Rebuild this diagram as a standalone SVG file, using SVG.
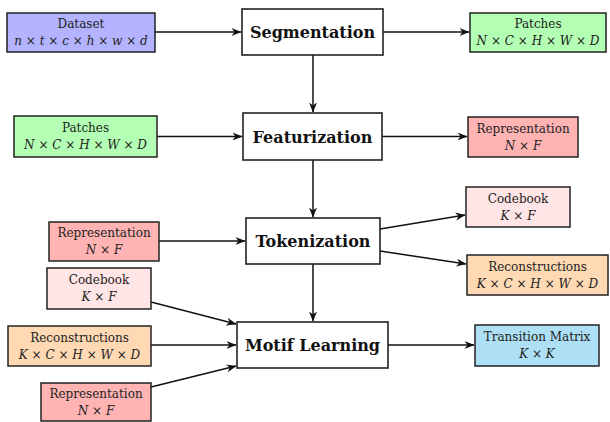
<svg xmlns="http://www.w3.org/2000/svg" width="610" height="422" viewBox="0 0 610 422">
<style>
.box{stroke:#222;stroke-width:1.5}
.main{fill:#fff;stroke:#222;stroke-width:1.6}
.t{font-family:"DejaVu Serif","Liberation Serif",serif;font-size:12px;fill:#222;text-anchor:middle}
.m{font-style:italic}
.x{font-style:normal}
.h{font-family:"DejaVu Serif","Liberation Serif",serif;font-size:16px;font-weight:bold;fill:#111;text-anchor:middle}
.c{stroke:#111;stroke-width:1.5;fill:none;marker-end:url(#ah)}
.blue{fill:#b3b3ff}.green{fill:#b3ffb3}.red{fill:#ffb3b3}.pink{fill:#ffe5e5}.orange{fill:#ffd9b3}.cyan{fill:#ade0f5}
</style>
<defs>
<marker id="ah" markerWidth="10" markerHeight="10" viewBox="0 0 10 10" refX="9.5" refY="5" orient="auto" markerUnits="userSpaceOnUse">
<path d="M0,1 L10,5 L0,9 L3,5 z" fill="#111"/>
</marker>
</defs>
<rect width="610" height="422" fill="#fff"/>
<g id="connectors">
<line class="c" x1="155" y1="32" x2="241" y2="32"/>
<line class="c" x1="383" y1="32" x2="469" y2="32"/>
<line class="c" x1="313" y1="55" x2="313" y2="112"/>
<line class="c" x1="157" y1="136.5" x2="242" y2="136.5"/>
<line class="c" x1="382" y1="136.5" x2="467" y2="136.5"/>
<line class="c" x1="313" y1="160" x2="313" y2="217"/>
<line class="c" x1="159" y1="241" x2="245" y2="241"/>
<line class="c" x1="380" y1="229" x2="465" y2="215"/>
<line class="c" x1="380" y1="251" x2="466" y2="264"/>
<line class="c" x1="313" y1="264" x2="313" y2="321"/>
<line class="c" x1="151" y1="302" x2="236" y2="324"/>
<line class="c" x1="151" y1="345" x2="236" y2="345"/>
<line class="c" x1="151" y1="387" x2="236" y2="366"/>
<line class="c" x1="388" y1="345" x2="474" y2="345"/>
</g>
<g id="dataset">
<rect class="box blue" x="7" y="13" width="148" height="39"/>
<text class="t" x="81" y="28">Dataset</text>
<text class="t m" x="81" y="45">n<tspan class="x"> × </tspan>t<tspan class="x"> × </tspan>c<tspan class="x"> × </tspan>h<tspan class="x"> × </tspan>w<tspan class="x"> × </tspan>d</text>
</g>
<g id="segmentation">
<rect class="main" x="242" y="9" width="141" height="46"/>
<text class="h" x="312.5" y="38">Segmentation</text>
</g>
<g id="patches-out">
<rect class="box green" x="470" y="13" width="136" height="39"/>
<text class="t" x="538" y="28">Patches</text>
<text class="t m" x="538" y="45">N<tspan class="x"> × </tspan>C<tspan class="x"> × </tspan>H<tspan class="x"> × </tspan>W<tspan class="x"> × </tspan>D</text>
</g>
<g id="patches-in">
<rect class="box green" x="14" y="116" width="143" height="41"/>
<text class="t" x="85.5" y="132">Patches</text>
<text class="t m" x="85.5" y="149">N<tspan class="x"> × </tspan>C<tspan class="x"> × </tspan>H<tspan class="x"> × </tspan>W<tspan class="x"> × </tspan>D</text>
</g>
<g id="featurization">
<rect class="main" x="243" y="113" width="139" height="47"/>
<text class="h" x="312.5" y="142.5">Featurization</text>
</g>
<g id="representation-out">
<rect class="box red" x="468" y="117" width="110" height="40"/>
<text class="t" x="523" y="133">Representation</text>
<text class="t m" x="523" y="150">N<tspan class="x"> × </tspan>F</text>
</g>
<g id="representation-in">
<rect class="box red" x="49" y="222" width="110" height="39"/>
<text class="t" x="104" y="237">Representation</text>
<text class="t m" x="104" y="254">N<tspan class="x"> × </tspan>F</text>
</g>
<g id="tokenization">
<rect class="main" x="246" y="218" width="134" height="46"/>
<text class="h" x="313" y="247">Tokenization</text>
</g>
<g id="codebook-out">
<rect class="box pink" x="466" y="187" width="104" height="40"/>
<text class="t" x="518" y="203">Codebook</text>
<text class="t m" x="518" y="220">K<tspan class="x"> × </tspan>F</text>
</g>
<g id="reconstructions-out">
<rect class="box orange" x="467" y="255" width="141" height="40"/>
<text class="t" x="537.5" y="271">Reconstructions</text>
<text class="t m" x="537.5" y="288">K<tspan class="x"> × </tspan>C<tspan class="x"> × </tspan>H<tspan class="x"> × </tspan>W<tspan class="x"> × </tspan>D</text>
</g>
<g id="codebook-in">
<rect class="box pink" x="47" y="268" width="104" height="41"/>
<text class="t" x="99" y="284">Codebook</text>
<text class="t m" x="99" y="301">K<tspan class="x"> × </tspan>F</text>
</g>
<g id="reconstructions-in">
<rect class="box orange" x="8" y="326" width="143" height="40"/>
<text class="t" x="79.5" y="342">Reconstructions</text>
<text class="t m" x="79.5" y="359">K<tspan class="x"> × </tspan>C<tspan class="x"> × </tspan>H<tspan class="x"> × </tspan>W<tspan class="x"> × </tspan>D</text>
</g>
<g id="representation-motif">
<rect class="box red" x="41" y="383" width="110" height="38"/>
<text class="t" x="96" y="398">Representation</text>
<text class="t m" x="96" y="415">N<tspan class="x"> × </tspan>F</text>
</g>
<g id="motif-learning">
<rect class="main" x="237" y="322" width="151" height="46"/>
<text class="h" x="312.5" y="351">Motif Learning</text>
</g>
<g id="transition-matrix">
<rect class="box cyan" x="475" y="325" width="124" height="41"/>
<text class="t" x="537" y="341">Transition Matrix</text>
<text class="t m" x="537" y="358">K<tspan class="x"> × </tspan>K</text>
</g>
</svg>
